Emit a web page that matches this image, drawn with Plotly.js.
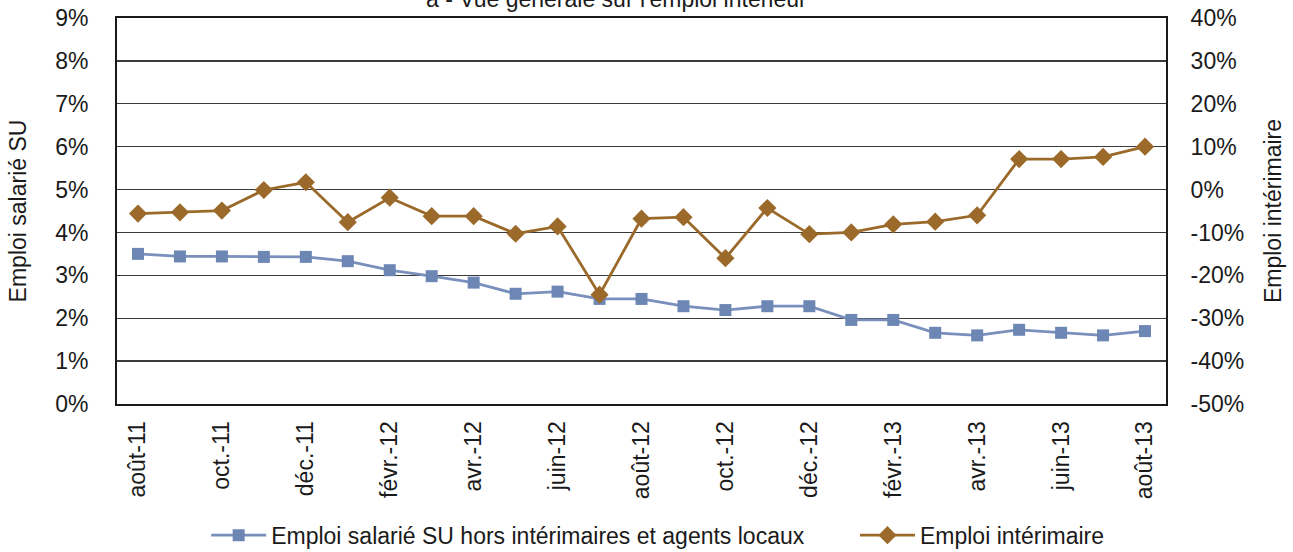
<!DOCTYPE html>
<html>
<head>
<meta charset="utf-8">
<script src="https://cdn.plot.ly/plotly-3.0.1.min.js"></script>
<style>html,body{margin:0;padding:0;background:#fff;}#chart{width:1293px;height:552px;}</style>
</head>
<body>
<div id="chart"></div>
<script>
const months = ["août-11","sept.-11","oct.-11","nov.-11","déc.-11","janv.-12","févr.-12","mars-12","avr.-12","mai-12","juin-12","juil.-12","août-12","sept.-12","oct.-12","nov.-12","déc.-12","janv.-13","févr.-13","mars-13","avr.-13","mai-13","juin-13","juil.-13","août-13"];
const tickLabels = ["août-11","oct.-11","déc.-11","févr.-12","avr.-12","juin-12","août-12","oct.-12","déc.-12","févr.-13","avr.-13","juin-13","août-13"];
const emploiSU = [3.50,3.44,3.44,3.43,3.43,3.33,3.12,2.98,2.83,2.57,2.62,2.45,2.45,2.28,2.19,2.28,2.28,1.96,1.96,1.66,1.60,1.73,1.66,1.60,1.70];
const emploiInterim = [-5.6,-5.3,-4.9,-0.1,1.7,-7.6,-1.9,-6.2,-6.2,-10.3,-8.6,-24.5,-6.8,-6.45,-16.0,-4.3,-10.4,-10.0,-8.1,-7.5,-6.0,7.1,7.1,7.6,10.0];
const leftTicks = [0,1,2,3,4,5,6,7,8,9];
const rightTicks = [-50,-40,-30,-20,-10,0,10,20,30,40];
const titleText = "a - Vue générale sur l'emploi intérieur";

const fam = "Liberation Sans, Arial, sans-serif";
const f = (s) => ({family: fam, size: s, color: "#1a1a1a"});

const traces = [
  {x: months, y: emploiSU, name: "Emploi salarié SU hors intérimaires et agents locaux", type: "scatter", mode: "lines+markers",
   line: {color: "#7890bb", width: 2.8}, marker: {symbol: "square", size: 12, color: "#6d87b4"}, yaxis: "y", legend: "legend"},
  {x: months, y: emploiInterim, name: "Emploi intérimaire", type: "scatter", mode: "lines+markers",
   line: {color: "#9b6a2b", width: 2.8}, marker: {symbol: "diamond", size: 14, color: "#9b6a2b"}, yaxis: "y2", legend: "legend2"}
];

const legendBase = {orientation: "h", xanchor: "left", y: -0.34, yanchor: "middle", bgcolor: "rgba(0,0,0,0)",
                    font: f(23), itemwidth: 55};

const layout = {
  width: 1293, height: 552,
  margin: {l: 117, r: 127, t: 18, b: 148, autoexpand: false},
  paper_bgcolor: "#fff", plot_bgcolor: "#fff",
  font: f(23),
  annotations: [{text: titleText, xref: "paper", yref: "paper", x: 0.4757, y: 1.05, xanchor: "center", yanchor: "middle",
                 showarrow: false, font: f(23)}],
  showlegend: true,
  legend: Object.assign({x: 0.085}, legendBase),
  legend2: Object.assign({x: 0.7035}, legendBase),
  xaxis: {type: "category", categoryorder: "array", categoryarray: months, automargin: false,
          range: [-0.5, months.length - 0.5],
          tickmode: "array", tickvals: tickLabels, ticktext: tickLabels, tickangle: -90,
          tickfont: f(23), showgrid: false, zeroline: false,
          showline: true, linecolor: "#1a1a1a", linewidth: 2, mirror: true, ticks: "", ticklabelstandoff: 6},
  yaxis: {range: [0, 9], tickvals: leftTicks, ticktext: leftTicks.map(v => v + "%"), automargin: false,
          showgrid: true, gridcolor: "#3a3a3a", gridwidth: 1.3, zeroline: false,
          showline: true, linecolor: "#1a1a1a", linewidth: 2, ticks: "", ticklabelstandoff: 22,
          tickfont: f(23),
          title: {text: "Emploi salarié SU", font: f(23), standoff: 22}},
  yaxis2: {range: [-50, 40], overlaying: "y", side: "right", tickvals: rightTicks, ticktext: rightTicks.map(v => v + "%"), automargin: false,
          showgrid: false, zeroline: false, showline: true, linecolor: "#1a1a1a", linewidth: 2, ticks: "", ticklabelstandoff: 18,
          tickfont: f(23),
          title: {text: "Emploi intérimaire", font: f(23), standoff: 22}}
};
Plotly.newPlot("chart", traces, layout, {displayModeBar: false, staticPlot: true});
</script>
</body>
</html>
